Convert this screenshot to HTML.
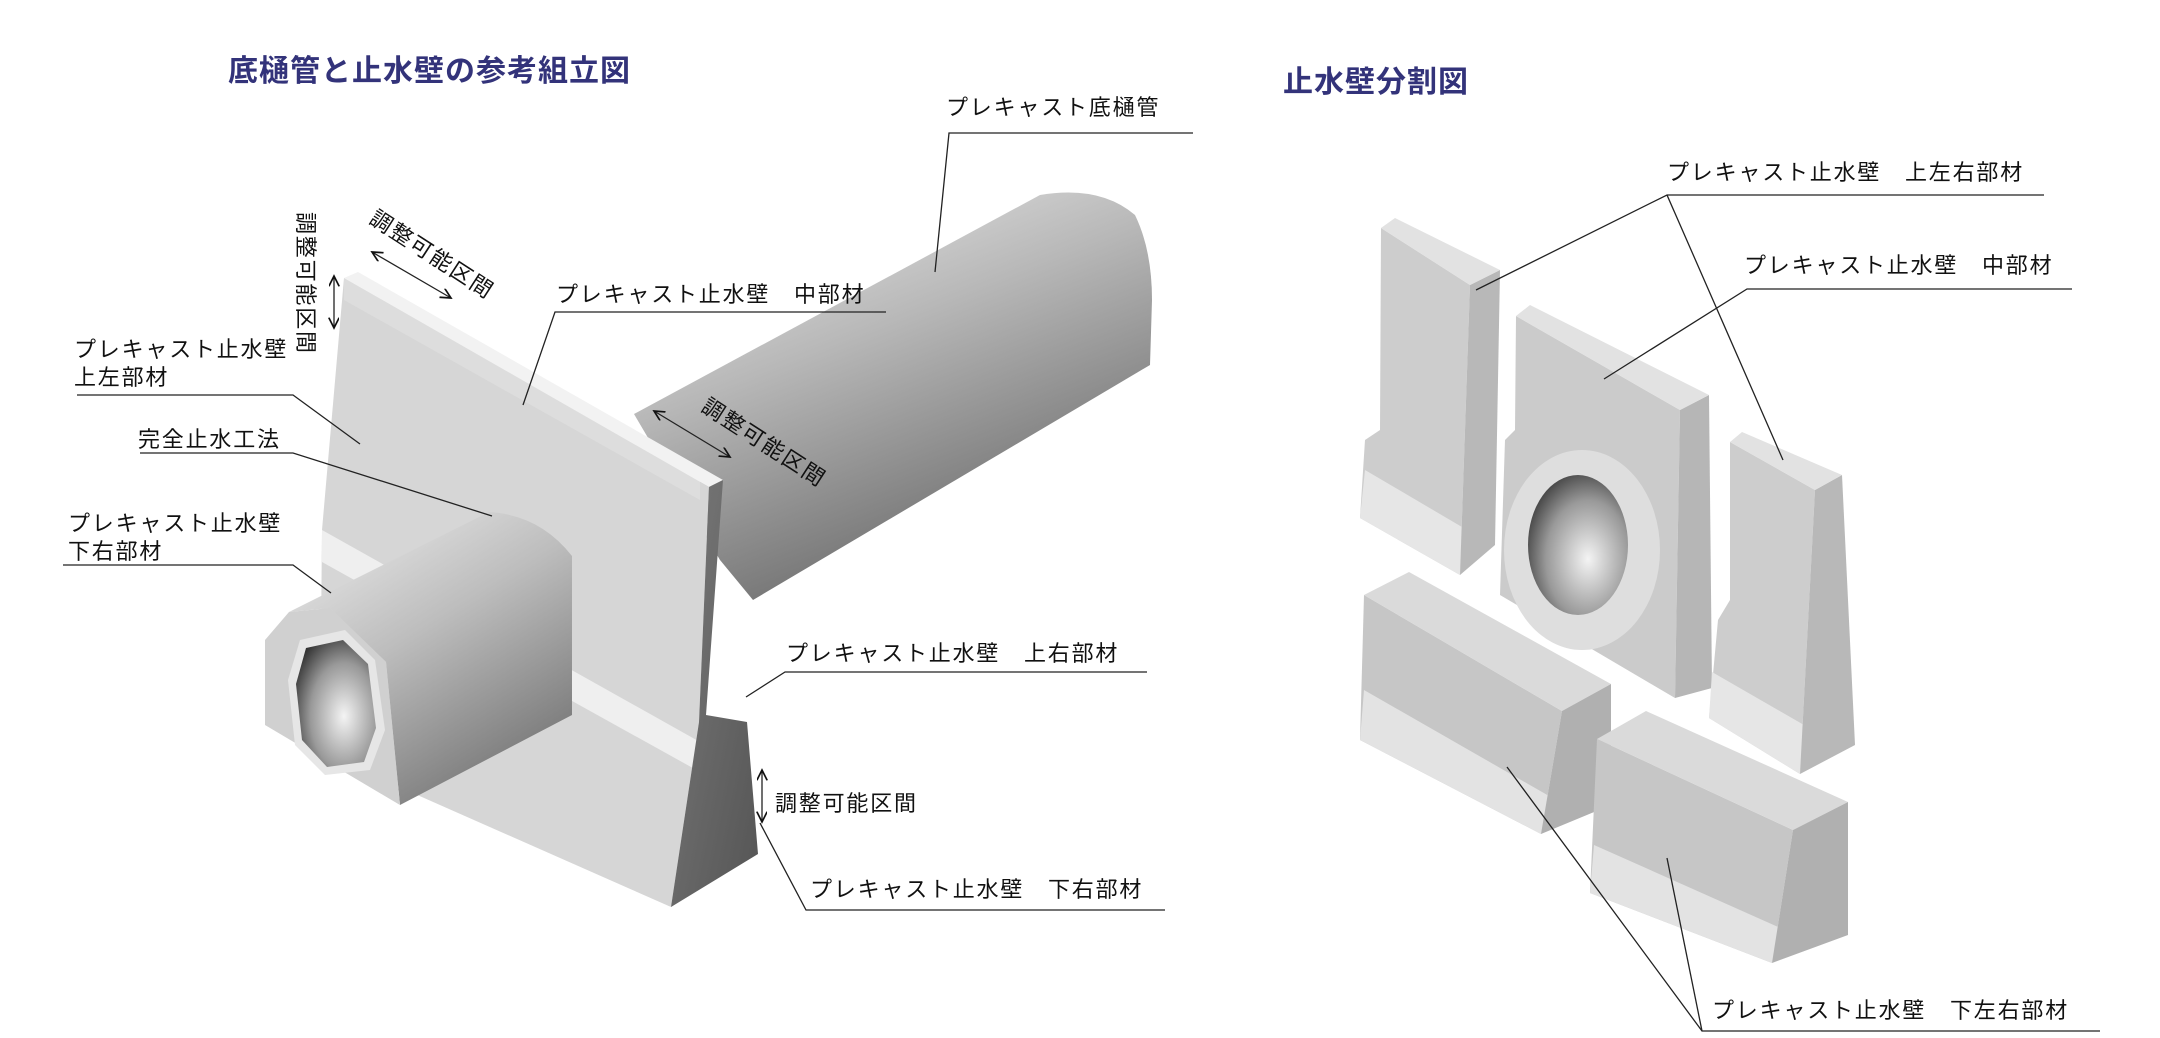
<!DOCTYPE html>
<html><head><meta charset="utf-8"><style>
html,body{margin:0;padding:0;background:#fff;}
svg{display:block}
text{font-family:"Liberation Sans","Noto Sans CJK JP",sans-serif;fill:#111;font-size:22px;letter-spacing:1.8px}
.t{fill:#33337a;font-size:30px;font-weight:bold;letter-spacing:1px}
line,polyline{stroke:#222;stroke-width:1.3;fill:none}
</style></head><body>
<svg width="2160" height="1038" viewBox="0 0 2160 1038" xmlns="http://www.w3.org/2000/svg">
<defs>
<linearGradient id="pipe" x1="0" y1="0" x2="0.5" y2="1"><stop offset="0" stop-color="#f0f0f0"/><stop offset="0.45" stop-color="#b8b8b8"/><stop offset="1" stop-color="#6a6a6a"/></linearGradient>
<linearGradient id="pipe2" x1="0" y1="0" x2="0.6" y2="1"><stop offset="0" stop-color="#f0f0f0"/><stop offset="0.5" stop-color="#bdbdbd"/><stop offset="1" stop-color="#7a7a7a"/></linearGradient>
<linearGradient id="dark" x1="0" y1="0" x2="1" y2="1"><stop offset="0" stop-color="#7a7a7a"/><stop offset="1" stop-color="#555"/></linearGradient>
<radialGradient id="hole" cx="0.6" cy="0.6" r="0.7"><stop offset="0" stop-color="#f4f4f4"/><stop offset="0.6" stop-color="#999"/><stop offset="1" stop-color="#333"/></radialGradient>
<marker id="ah" markerWidth="10" markerHeight="10" refX="8" refY="4" orient="auto-start-reverse"><path d="M0,0 L8,4 L0,8" fill="none" stroke="#111" stroke-width="1.3"/></marker>
</defs>

<text class="t" x="228" y="81">底樋管と止水壁の参考組立図</text>
<text class="t" x="1283" y="92">止水壁分割図</text>

<!-- big pipe -->
<path d="M634,414 L1040,195 Q1100,185 1135,215 Q1152,250 1152,300 L1150,365 L753,600 L720,560 Z" fill="url(#pipe)"/>
<!-- wall -->
<polygon points="344,278 709,487 699,722 671,907 406,790 320,740 322,530" fill="#d6d6d6"/>
<polygon points="322,530 700,742 700,772 322,562" fill="#efefef"/>
<polygon points="344,278 700,480 700,500 344,300" fill="#dddddd"/>
<polygon points="344,278 358,272 723,480 709,487" fill="#f2f2f2"/>
<polygon points="709,487 723,480 706,715 747,722 758,854 671,907 699,722" fill="url(#dark)"/>
<!-- small pipe box -->
<path d="M289,612 L489,512 Q540,515 572,556 L572,715 L400,805 L386,662 L330,608 Z" fill="url(#pipe2)"/>
<polygon points="265,640 289,612 330,608 386,662 400,805 265,725" fill="#d0d0d0"/>
<polygon points="300,640 345,630 375,660 385,730 370,770 325,775 295,745 288,680" fill="#e6e6e6"/>
<polygon points="306,648 343,640 368,664 376,728 364,762 327,767 302,740 296,684" fill="url(#hole)"/>

<!-- dimension arrows -->
<line x1="334" y1="276" x2="334" y2="328" marker-start="url(#ah)" marker-end="url(#ah)"/>
<text x="0" y="0" transform="translate(298,212) rotate(90)">調整可能区間</text>
<line x1="372" y1="252" x2="451" y2="298" marker-start="url(#ah)" marker-end="url(#ah)"/>
<text x="0" y="0" transform="translate(368,222) rotate(33)">調整可能区間</text>
<line x1="654" y1="411" x2="730" y2="457" marker-start="url(#ah)" marker-end="url(#ah)"/>
<text x="0" y="0" transform="translate(700,410) rotate(33)">調整可能区間</text>
<line x1="762" y1="770" x2="762" y2="822" marker-start="url(#ah)" marker-end="url(#ah)"/>
<text x="775" y="811">調整可能区間</text>

<!-- left labels -->
<text x="946" y="115">プレキャスト底樋管</text>
<polyline points="1193,133 949,133 935,272"/>
<text x="556" y="302">プレキャスト止水壁　中部材</text>
<polyline points="886,312 555,312 523,405"/>
<text x="74" y="357">プレキャスト止水壁</text>
<text x="74" y="385">上左部材</text>
<polyline points="77,395 293,395 360,444"/>
<text x="138" y="447">完全止水工法</text>
<polyline points="140,453 293,453 492,516"/>
<text x="68" y="531">プレキャスト止水壁</text>
<text x="68" y="559">下右部材</text>
<polyline points="63,565 293,565 331,593"/>
<text x="786" y="661">プレキャスト止水壁　上右部材</text>
<polyline points="1147,672 785,672 746,697"/>
<text x="810" y="897">プレキャスト止水壁　下右部材</text>
<polyline points="1165,910 806,910 760,823"/>

<!-- right pieces -->
<polygon points="1381,228 1470,285 1460,575 1360,518 1365,440 1380,430" fill="#cdcdcd"/>
<polygon points="1365,470 1462,527 1460,575 1360,518" fill="#e6e6e6"/>
<polygon points="1470,285 1500,270 1495,545 1460,575" fill="#b8b8b8"/>
<polygon points="1381,228 1395,218 1500,270 1470,285" fill="#e2e2e2"/>
<polygon points="1516,316 1680,410 1675,698 1500,595 1505,440 1515,430" fill="#cbcbcb"/>
<polygon points="1680,410 1709,395 1712,688 1675,698" fill="#b6b6b6"/>
<polygon points="1516,316 1530,305 1709,395 1680,410" fill="#e2e2e2"/>
<ellipse cx="1582" cy="550" rx="78" ry="100" fill="#dedede"/>
<ellipse cx="1578" cy="545" rx="50" ry="70" fill="url(#hole)"/>
<polygon points="1730,442 1815,490 1800,774 1709,718 1718,620 1730,600" fill="#cdcdcd"/>
<polygon points="1712,672 1804,725 1800,774 1709,718" fill="#e6e6e6"/>
<polygon points="1815,490 1842,475 1855,745 1800,774" fill="#b8b8b8"/>
<polygon points="1730,442 1742,432 1842,475 1815,490" fill="#e2e2e2"/>
<polygon points="1364,595 1562,711 1541,834 1360,740" fill="#c6c6c6"/>
<polygon points="1364,690 1556,800 1541,834 1360,740" fill="#e3e3e3"/>
<polygon points="1364,595 1409,572 1611,684 1562,711" fill="#dadada"/>
<polygon points="1562,711 1611,684 1611,805 1541,834" fill="#b0b0b0"/>
<polygon points="1597,739 1793,830 1772,963 1590,893" fill="#c6c6c6"/>
<polygon points="1594,845 1785,930 1772,963 1590,893" fill="#e3e3e3"/>
<polygon points="1597,739 1646,711 1848,802 1793,830" fill="#dadada"/>
<polygon points="1793,830 1848,802 1848,935 1772,963" fill="#b0b0b0"/>

<!-- right labels -->
<text x="1667" y="180">プレキャスト止水壁　上左右部材</text>
<polyline points="2044,195 1667,195 1476,290"/>
<line x1="1667" y1="195" x2="1783" y2="460"/>
<text x="1744" y="273">プレキャスト止水壁　中部材</text>
<polyline points="2072,289 1747,289 1604,379"/>
<text x="1712" y="1018">プレキャスト止水壁　下左右部材</text>
<polyline points="2100,1031 1702,1031 1507,767"/>
<line x1="1702" y1="1031" x2="1667" y2="858"/>
</svg>
</body></html>
